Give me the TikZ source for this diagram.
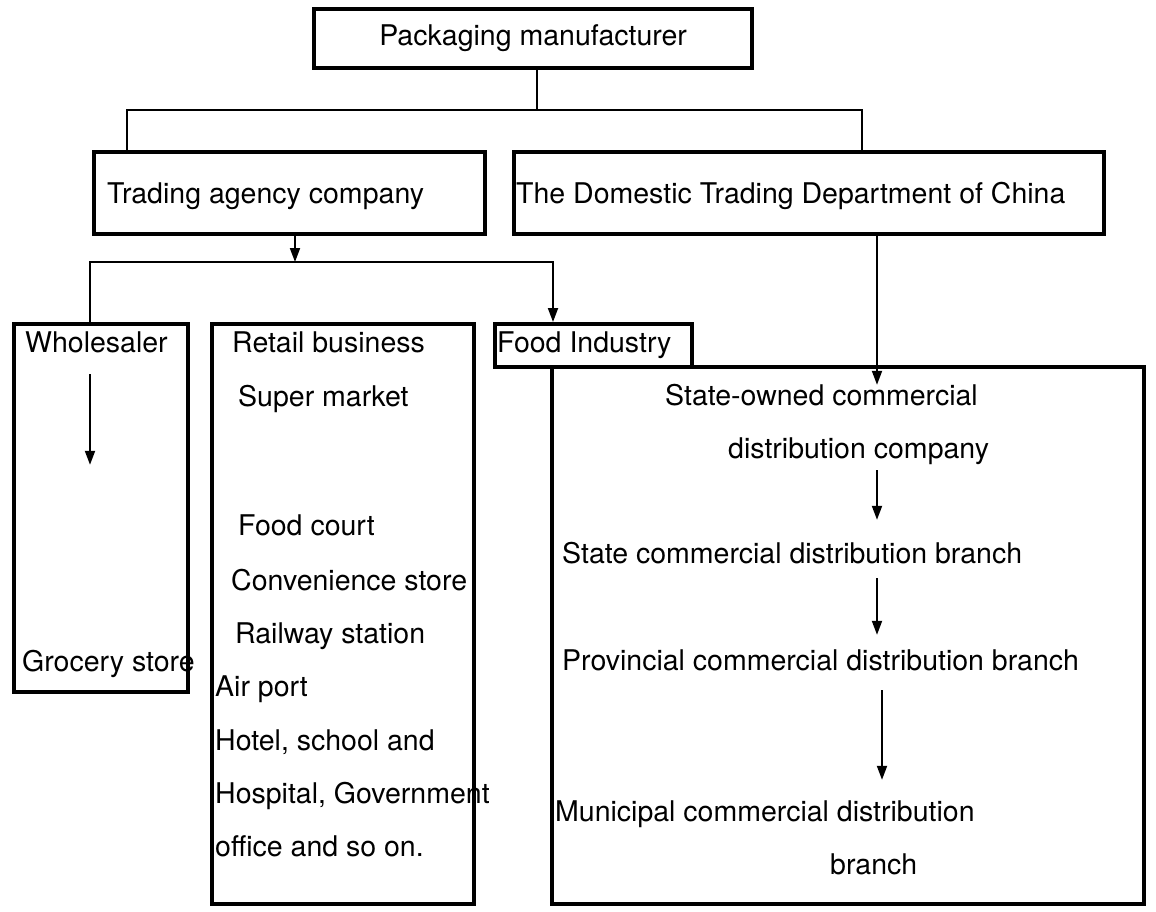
\documentclass[tikz,border=0pt]{standalone}
\usepackage{fontspec}
\setmainfont{TeX Gyre Heros}
\usetikzlibrary{arrows.meta,positioning}

\begin{document}
\begin{tikzpicture}[x=1pt, y=-1pt,
  box/.style={draw, line width=4.2pt, inner sep=0pt, anchor=north west},
  txt/.style={anchor=base west, inner sep=0pt, text height=20pt, text depth=6pt,
    font=\fontsize{28.5}{33}\selectfont},
  conn/.style={line width=1.9pt},
  arr/.style={conn, -{Triangle[length=14pt, width=10pt]}},
]
\useasboundingbox (0,0) rectangle (1156,911);

% === Top ===
\node[box, minimum width=438pt, minimum height=59pt, txt, anchor=north west] (pack) at (312,7) {Packaging manufacturer};

% === Second level ===
\node[box, minimum width=391pt, minimum height=82pt] (trade) at (92,150) {};
\node[txt] (tradetxt) at (107,203) {Trading agency company};
\node[box, minimum width=590pt, minimum height=82pt] (dom) at (512,150) {};
\node[txt] (domtxt) at (516,203) {The Domestic Trading Department of China};

% === Trading agency side ===
\node[box, minimum width=174pt, minimum height=368pt] (whole) at (12,322) {};
\node[txt] (wholetxt) at (25,352) {Wholesaler};
\node[txt] (grocery) at (22,671) {Grocery store};

\node[box, minimum width=262pt, minimum height=580pt] (retail) at (210,322) {};
\node[txt] (rb) at (232,352) {Retail business};
\node[txt] (sm) at (238,406) {Super market};
\node[txt] (fc) at (238,535) {Food court};
\node[txt] (cs) at (231,590) {Convenience store};
\node[txt] (rs) at (235,643) {Railway station};
\node[txt] (ap) at (215,696) {Air port};
\node[txt] (hs) at (215,750) {Hotel, school and};
\node[txt] (hg) at (215,803) {Hospital, Government};
\node[txt] (os) at (215,856) {office and so on.};

\node[box, minimum width=197pt, minimum height=43pt] (food) at (493,322) {};
\node[txt] (foodtxt) at (497,352) {Food Industry};

% === State distribution side ===
\node[box, minimum width=592pt, minimum height=537pt] (state) at (550,365) {};
\node[txt] (so) at (665,405) {State-owned commercial};
\node[txt] (dc) at (728,458) {distribution company};
\node[txt] (sc) at (562,563) {State commercial distribution branch};
\node[txt] (pc) at (562,670) {Provincial commercial distribution branch};
\node[txt] (mc) at (555,821) {Municipal commercial distribution};
\node[txt] (br) at (830,874) {branch};

% === Connectors ===
\coordinate (bus1) at (537,110);
\coordinate (bus1l) at (127,110);
\coordinate (bus1r) at (862,110);
\draw[conn] (pack.south -| bus1) -- (bus1);
\draw[conn] (bus1l |- trade.north) -- (bus1l) -- (bus1r) -- (bus1r |- dom.north);

\coordinate (bus2) at (295,262);
\coordinate (bus2l) at (90,262);
\coordinate (bus2r) at (553,262);
\draw[arr] (trade.south -| bus2) -- (bus2);
\draw[arr] (bus2l |- whole.north) -- (bus2l) -- (bus2r) -- (bus2r |- food.north);

\draw[arr, shorten <=16pt, shorten >=186pt] (wholetxt.south -| bus2l) -- (bus2l |- grocery.north);

\coordinate (col) at (877,0);
\draw[arr] (dom.south -| col) -- (col |- so.north);
\draw[arr, shorten <=6pt, shorten >=23pt] (dc.south -| col) -- (col |- sc.north);
\draw[arr, shorten <=9pt, shorten >=15pt] (sc.south -| col) -- (col |- pc.north);
\draw[arr, shorten <=14pt, shorten >=21pt] ([xshift=5pt]pc.south -| col) -- ([xshift=5pt]col |- mc.north);

\end{tikzpicture}
\end{document}
